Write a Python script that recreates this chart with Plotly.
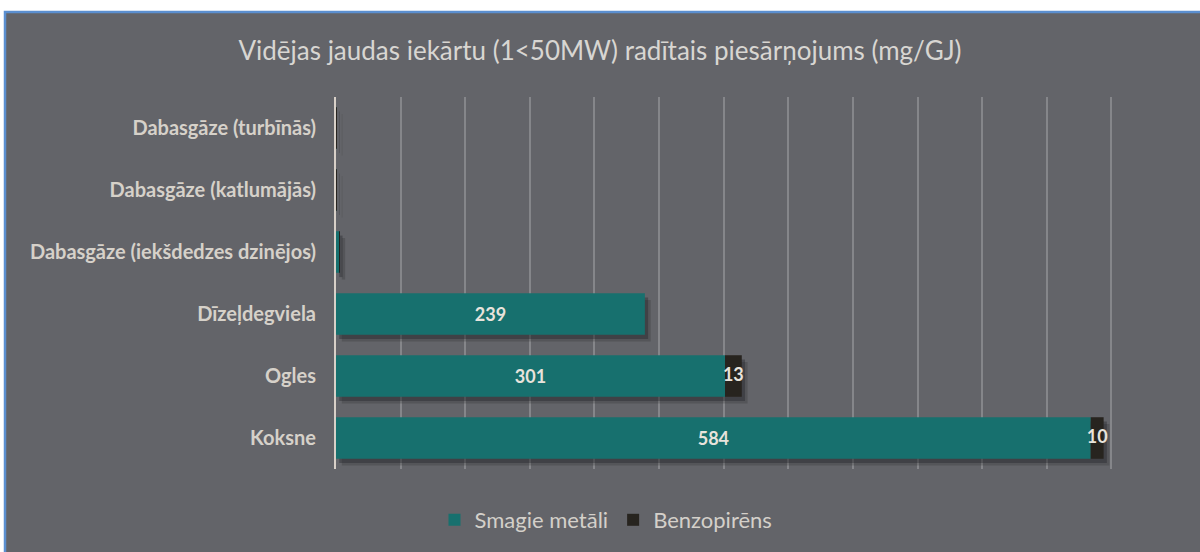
import plotly.graph_objects as go

categories = ["Dabasgāze (turbīnās)", "Dabasgāze (katlumājās)", "Dabasgāze (iekšdedzes dzinējos)",
              "Dīzeļdegviela", "Ogles", "Koksne"]
smagie_metali = [0.3, 0.3, 2.5, 239, 301, 584]
benzopirens = [0.05, 0.05, 0.05, 0.0, 13, 10]
smagie_labels = ["", "", "", "239", "301", "584"]
benzo_labels = ["", "", "", "", "13", "10"]

TEAL = "#17706e"
DARK = "#27241f"
BG = "#636469"
TXT = "#d6d1c9"
FONT = "Lato, 'Open Sans', sans-serif"
BARW = 0.67

totals = [s + b for s, b in zip(smagie_metali, benzopirens)]

fig = go.Figure()
# soft drop shadow behind the bars (two layers for a blurred look)
for extra, off, alpha in [(4.5, 0.11, 0.22), (2.5, 0.07, 0.35)]:
    fig.add_trace(go.Bar(
        y=categories, x=totals, base=[extra] * len(totals), orientation="h",
        width=BARW, offset=-BARW / 2 + off,
        marker=dict(color=f"rgba(30,30,33,{alpha})", line=dict(width=0)),
        showlegend=False, hoverinfo="skip",
    ))
fig.add_trace(go.Bar(
    y=categories, x=smagie_metali, name="Smagie metāli", orientation="h",
    width=BARW, offset=-BARW / 2,
    marker=dict(color=TEAL, line=dict(width=0)),
    text=smagie_labels, textposition="inside", insidetextanchor="middle",
    textfont=dict(color="#e8e3dc", size=18, family=FONT, weight="bold"),
    hoverinfo="x+name",
))
fig.add_trace(go.Bar(
    y=categories, x=benzopirens, base=smagie_metali, name="Benzopirēns", orientation="h",
    width=BARW, offset=-BARW / 2,
    marker=dict(color=DARK, line=dict(width=0)),
    hoverinfo="x+name",
))
# labels for the small benzopirēns segments, centred on each segment
bx = [s + b / 2 for s, b in zip(smagie_metali, benzopirens)]
fig.add_trace(go.Scatter(
    y=categories, x=bx, mode="text", text=benzo_labels, showlegend=False,
    textfont=dict(color="#e8e3dc", size=18, family=FONT, weight="bold"),
    hoverinfo="skip",
))

fig.update_layout(
    width=1200, height=552,
    barmode="overlay",
    paper_bgcolor="white", plot_bgcolor=BG,
    margin=dict(l=336, r=24, t=97, b=83),
    title=dict(text="Vidējas jaudas iekārtu (1<50MW) radītais piesārņojums (mg/GJ)",
               x=0.5, xref="container", y=1 - 51 / 552, yanchor="middle",
               font=dict(family=FONT, size=26, color="#d8d6d2", weight=400)),
    font=dict(family=FONT, color=TXT),
    showlegend=True,
    legend=dict(orientation="h", x=0.505, xref="container", xanchor="center",
                y=1 - 520 / 552, yref="container", yanchor="middle",
                font=dict(family=FONT, size=22, color="#d4d0ca"),
                bgcolor="rgba(0,0,0,0)", traceorder="normal"),
    xaxis=dict(range=[0, 650], dtick=50, showticklabels=False, showgrid=True,
               gridcolor="#85868a", gridwidth=1.5, zeroline=False, showline=False,
               fixedrange=True),
    yaxis=dict(autorange="reversed", showgrid=False, showline=True, linecolor="#d8d0c8",
               linewidth=2, ticks="", ticklabelstandoff=14,
               tickfont=dict(family=FONT, size=20, color=TXT, weight="bold")),
    shapes=[
        dict(type="rect", xref="paper", yref="paper",
             x0=(5 - 336) / 840, x1=(1215 - 336) / 840,
             y0=(469 - 570) / 372, y1=(469 - 12) / 372,
             fillcolor=BG, line=dict(color="#5b8fd0", width=2.5), layer="below"),
    ],
)

fig.write_html("out.html", config={"displayModeBar": False},
               post_script="document.body.style.margin='0';document.body.style.overflow='hidden';")
